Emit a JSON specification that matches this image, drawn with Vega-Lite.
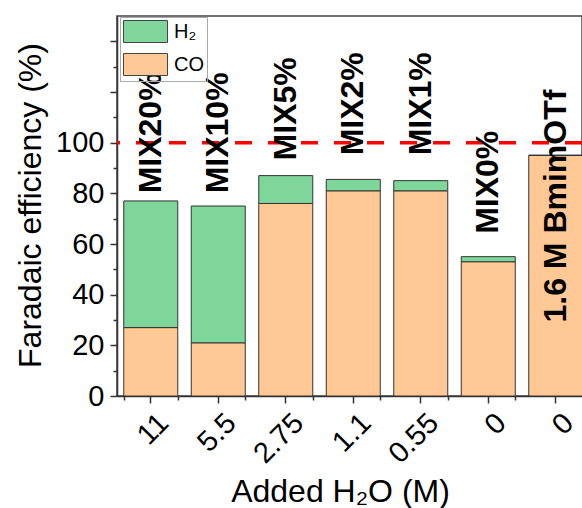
{
  "$schema": "https://vega.github.io/schema/vega-lite/v6.json",
  "width": 465,
  "height": 380,
  "autosize": "none",
  "padding": {"left": 117, "top": 16, "right": 0, "bottom": 112},
  "config": {
    "font": "Liberation Sans",
    "view": {"stroke": "#444", "strokeWidth": 1.5},
    "axis": {"domainColor": "#333", "tickColor": "#333", "labelColor": "#000", "titleColor": "#000", "grid": false, "domainWidth": 1.5, "tickWidth": 1.5, "labelFont": "Liberation Sans", "titleFont": "Liberation Sans", "titleFontWeight": "normal"}
  },
  "datasets": {
    "fe": [
      {"water": "11", "gas": "CO", "fe": 27},
      {"water": "11", "gas": "H₂", "fe": 50},
      {"water": "5.5", "gas": "CO", "fe": 21},
      {"water": "5.5", "gas": "H₂", "fe": 54},
      {"water": "2.75", "gas": "CO", "fe": 76},
      {"water": "2.75", "gas": "H₂", "fe": 11},
      {"water": "1.1", "gas": "CO", "fe": 81},
      {"water": "1.1", "gas": "H₂", "fe": 4.5},
      {"water": "0.55", "gas": "CO", "fe": 81},
      {"water": "0.55", "gas": "H₂", "fe": 4},
      {"water": "0 (MIX0%)", "gas": "CO", "fe": 53},
      {"water": "0 (MIX0%)", "gas": "H₂", "fe": 2},
      {"water": "0 (BmimOTf)", "gas": "CO", "fe": 95},
      {"water": "0 (BmimOTf)", "gas": "H₂", "fe": 0}
    ],
    "labels": [
      {"water": "11", "label": "MIX20%", "pos": 80},
      {"water": "5.5", "label": "MIX10%", "pos": 80},
      {"water": "2.75", "label": "MIX5%", "pos": 93},
      {"water": "1.1", "label": "MIX2%", "pos": 95},
      {"water": "0.55", "label": "MIX1%", "pos": 95},
      {"water": "0 (MIX0%)", "label": "MIX0%", "pos": 64},
      {"water": "0 (BmimOTf)", "label": "1.6 M BmimOTf", "pos": 29}
    ],
    "ref": [{"fe": 100}]
  },
  "layer": [
    {
      "data": {"name": "fe"},
      "mark": {"type": "bar", "stroke": "#333", "strokeWidth": 1},
      "encoding": {
        "x": {
          "field": "water", "type": "nominal", "sort": null,
          "scale": {"range": [0, 472.5], "paddingInner": 0.2, "paddingOuter": 0.1},
          "axis": {
            "title": "Added H₂O (M)", "titleFontSize": 32, "titleX": 223, "titleY": 105, "titleBaseline": "alphabetic",
            "labelAngle": -45, "labelAlign": "right", "labelBaseline": "middle", "labelFontSize": 29,
            "labelPadding": 15, "labelOffset": 13, "tickSize": 7,
            "labelExpr": "split(datum.label, ' ')[0]"
          }
        },
        "y": {
          "field": "fe", "type": "quantitative", "stack": "zero",
          "scale": {"domain": [0, 150], "nice": false},
          "axis": {
            "title": "Faradaic efficiency (%)", "titleFontSize": 32, "titleX": -77, "titleY": 189, "titleBaseline": "alphabetic",
            "values": [0, 20, 40, 60, 80, 100, 120, 140],
            "labelExpr": "datum.value <= 100 ? datum.label : ''",
            "labelFontSize": 29, "labelPadding": 6, "tickSize": 7
          }
        },
        "color": {
          "field": "gas", "type": "nominal",
          "scale": {"domain": ["H₂", "CO"], "range": ["#7ED69B", "#FFC894"]},
          "legend": {
            "title": null, "orient": "none", "legendX": 3, "legendY": 1,
            "symbolType": "M-1,-1H3V1H-1Z", "symbolSize": 484,
            "symbolStrokeColor": "#444", "symbolStrokeWidth": 1,
            "labelFontSize": 20, "labelOffset": 28, "rowPadding": 6,
            "padding": 3, "strokeColor": "#aaa"
          }
        },
        "order": {"field": "gas", "sort": "ascending"}
      }
    },
    {
      "data": {"name": "ref"},
      "mark": {"type": "rule", "color": "#FF0000", "strokeWidth": 3.5, "strokeDash": [17, 16]},
      "encoding": {"y": {"field": "fe", "type": "quantitative", "axis": null}}
    },
    {
      "data": {"name": "labels"},
      "mark": {"type": "text", "angle": -90, "align": "left", "baseline": "middle", "fontSize": 32, "fontWeight": "bold", "font": "Liberation Sans", "color": "#000", "limit": 2000},
      "encoding": {
        "x": {
          "field": "water", "type": "nominal", "sort": null,
          "axis": {"orient": "bottom", "tickBand": "extent", "labels": false, "domain": false, "tickSize": 4, "title": null}
        },
        "y": {
          "field": "pos", "type": "quantitative",
          "axis": {"orient": "left", "values": [10, 30, 50, 70, 90, 110, 130], "labels": false, "domain": false, "tickSize": 4, "title": null}
        },
        "text": {"field": "label"}
      }
    }
  ],
  "resolve": {"axis": {"x": "independent", "y": "independent"}}
}
